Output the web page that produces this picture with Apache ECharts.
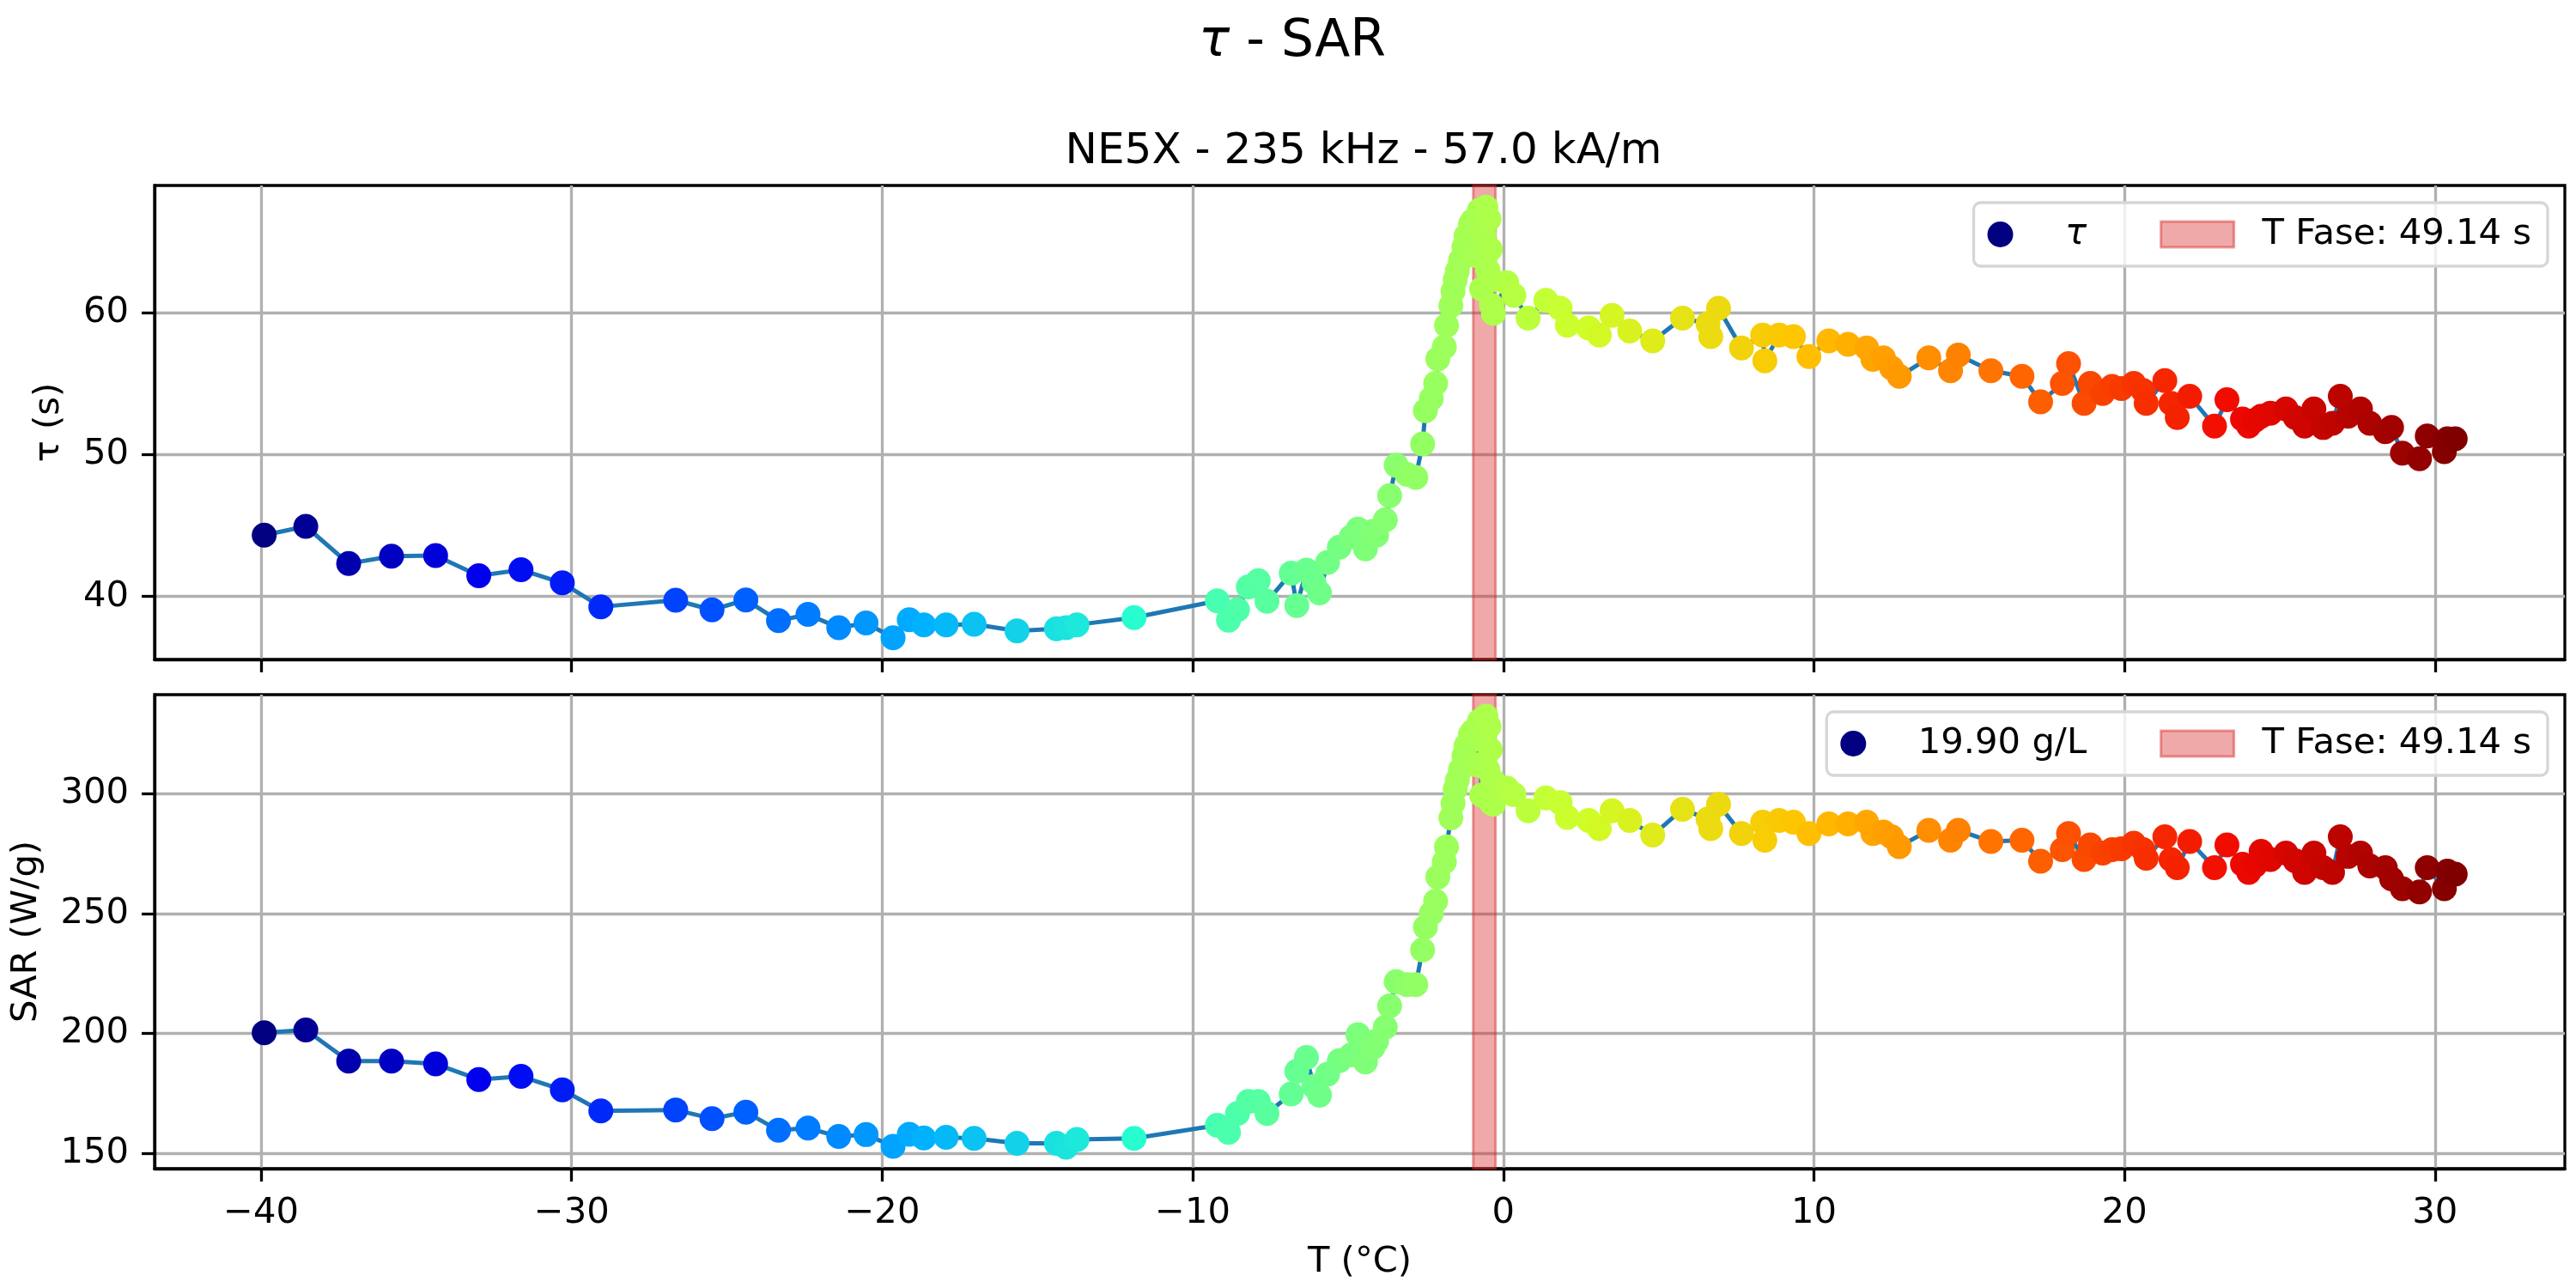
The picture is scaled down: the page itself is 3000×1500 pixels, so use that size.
<!DOCTYPE html>
<html>
<head>
<meta charset="utf-8">
<title>tau - SAR</title>
<script src="https://cdn.jsdelivr.net/npm/echarts@6/dist/echarts.min.js"></script>
<style>
  html, body { margin: 0; padding: 0; background: #fff; }
  #chart { width: 3000px; height: 1500px; }
</style>
</head>
<body>
<div id="chart"></div>
<script>
// temperatura (°C) - comun a los dos paneles
var tempC = [
  -39.9, -38.56, -37.18, -35.8, -34.38, -32.99, -31.63, -30.3, -29.06, -26.65,
  -25.48, -24.39, -23.34, -22.39, -21.4, -20.52, -19.65, -19.13, -18.66, -17.94,
  -17.04, -15.66, -14.39, -14.08, -13.73, -11.89, -9.21, -8.85, -8.56, -8.21,
  -7.89, -7.61, -6.83, -6.65, -6.34, -6.1, -5.92, -5.66, -5.28, -4.9,
  -4.68, -4.44, -4.2, -4.08, -3.8, -3.66, -3.45, -3.1, -2.82, -2.6,
  -2.51, -2.32, -2.18, -2.11, -1.9, -1.83, -1.69, -1.62, -1.55, -1.48,
  -1.38, -1.27, -1.2, -1.06, -0.99, -0.85, -0.77, -0.7, -0.62, -0.56,
  -0.5, -0.46, -0.42, -0.38, -0.35, -0.32, 0.11, 0.34, 0.8, 1.37,
  1.83, 2.06, 2.75, 3.09, 3.5, 4.07, 4.81, 5.77, 6.59, 6.68,
  6.93, 7.67, 8.35, 8.42, 8.88, 9.34, 9.84, 10.48, 11.1, 11.7,
  11.9, 12.24, 12.5, 12.75, 13.7, 14.4, 14.65, 15.7, 16.7, 17.3,
  18.0, 18.2, 18.7, 18.9, 19.3, 19.6, 19.9, 20.3, 20.6, 20.7,
  21.3, 21.5, 21.7, 22.1, 22.9, 23.3, 23.8, 24.0, 24.2, 24.4,
  24.7, 25.2, 25.5, 25.8, 26.1, 26.4, 26.7, 26.95, 27.2, 27.6,
  27.9, 28.4, 28.6, 28.95, 29.5, 29.75, 30.3, 30.4, 30.65
];
// tau (s)
var tauS = [
  44.32, 44.94, 42.32, 42.84, 42.88, 41.46, 41.88, 40.96, 39.28, 39.74,
  39.06, 39.76, 38.3, 38.74, 37.8, 38.14, 37.1, 38.37, 38.01, 38.01,
  38.05, 37.58, 37.73, 37.8, 38.01, 38.52, 39.7, 38.33, 39.08, 40.68,
  41.11, 39.66, 41.65, 39.36, 41.86, 41.0, 40.26, 42.4, 43.47, 44.2,
  44.75, 43.36, 44.6, 44.32, 45.39, 47.1, 49.24, 48.6, 48.39, 50.74,
  53.09, 53.95, 55.0, 56.73, 57.58, 59.08, 60.47, 61.5, 62.29, 62.93,
  63.68, 64.6, 65.39, 66.2, 66.46, 64.0, 67.2, 61.65, 65.5, 67.42,
  63.0, 66.57, 64.43, 60.5, 62.29, 59.94, 62.1, 61.2, 59.6, 60.85,
  60.3, 59.1, 58.9, 58.4, 59.8, 58.7, 58.0, 59.6, 59.2, 58.3,
  60.3, 57.5, 58.4, 56.6, 58.4, 58.3, 56.9, 58.0, 57.75, 57.5,
  56.7, 56.8, 56.1, 55.5, 56.8, 55.9, 57.0, 55.9, 55.5, 53.7,
  55.0, 56.4, 53.6, 55.0, 54.3, 54.8, 54.65, 55.0, 54.5, 53.6,
  55.2, 53.6, 52.6, 54.1, 52.0, 53.85, 52.5, 52.0, 52.4, 52.7,
  52.9, 53.2, 52.6, 52.0, 53.2, 51.9, 52.2, 54.1, 52.7, 53.2,
  52.2, 51.6, 51.9, 50.1, 49.7, 51.3, 50.2, 51.1, 51.1
];
// SAR (W/g)
var sarWg = [
  200.2, 201.4, 188.4, 188.4, 187.2, 180.7, 182.0, 176.4, 167.6, 168.0,
  164.4, 167.1, 159.5, 160.4, 156.9, 157.7, 152.8, 157.8, 156.3, 156.6,
  156.1, 154.1, 154.1, 152.5, 155.7, 156.1, 161.6, 158.6, 166.5, 171.5,
  171.5, 166.5, 174.7, 184.2, 189.9, 177.8, 174.1, 182.9, 188.6, 191.0,
  199.4, 188.0, 194.0, 196.8, 202.5, 211.4, 221.5, 220.3, 220.3, 234.8,
  244.3, 250.0, 255.1, 265.2, 271.5, 277.8, 289.9, 296.0, 301.9, 305.7,
  310.0, 315.8, 320.0, 324.7, 326.0, 312.0, 330.4, 299.4, 322.0, 332.3,
  310.0, 328.0, 318.4, 296.0, 305.7, 295.6, 302.3, 299.6, 292.8, 298.2,
  296.2, 290.1, 288.8, 285.4, 292.8, 288.8, 282.7, 293.5, 289.4, 285.4,
  295.5, 283.3, 288.1, 280.6, 288.8, 288.1, 283.3, 287.4, 287.4, 288.1,
  283.3, 284.0, 282.0, 277.9, 284.7, 280.6, 284.7, 280.0, 280.6, 271.8,
  276.6, 283.3, 272.5, 278.6, 275.2, 276.6, 277.0, 279.3, 276.6, 273.0,
  282.0, 272.5, 269.1, 280.0, 269.1, 278.6, 270.5, 267.1, 270.0, 275.9,
  272.5, 275.2, 272.0, 267.1, 275.2, 269.1, 267.1, 282.0, 273.8, 275.2,
  269.8, 269.1, 264.4, 260.3, 259.0, 269.1, 260.3, 267.7, 266.4
];
// ticks de los ejes
var xTicks = [-40, -30, -20, -10, 0, 10, 20, 30];
var tauTicks = [40, 50, 60];
var sarTicks = [150, 200, 250, 300];
// zona de cambio de fase
var faseSpan = [-0.97, -0.25];
var faseLabel = 'T Fase: 49.14 s';
var concLabel = '19.90 g/L';

// colormap jet (matplotlib)
var jetColors = ['#000080', '#0000f1', '#004cff', '#00b0ff', '#29ffce', '#7dff7a',
                 '#ceff29', '#ffc400', '#ff6800', '#f10800', '#800000'];

var FONT = 'DejaVu Sans';
var LW = 3.3;

var pares = function (ys) {
  return tempC.map(function (t, i) { return [t, ys[i]]; });
};

// signo menos tipografico como matplotlib
var menos = function (v) {
  return String(v).replace('-', '\u2212');
};

var ejeX = function (idx, labels) {
  return {
    type: 'value', gridIndex: idx, min: -43.43, max: 34.18,
    axisLine: { onZero: false, lineStyle: { color: '#000', width: LW } },
    axisTick: { show: true, customValues: xTicks, length: 15, lineStyle: { color: '#000', width: LW } },
    axisLabel: { show: labels, customValues: xTicks, margin: 31, color: '#000', fontSize: 41.7,
                 fontFamily: FONT, formatter: menos },
    splitLine: { show: true, lineStyle: { color: '#b0b0b0', width: LW } },
    name: labels ? 'T (°C)' : '', nameLocation: 'middle', nameGap: 88,
    nameTextStyle: { color: '#000', fontSize: 41.7, fontFamily: FONT }
  };
};

var ejeY = function (idx, min, max, ticks, name, gap) {
  return {
    type: 'value', gridIndex: idx, min: min, max: max,
    axisLine: { onZero: false, lineStyle: { color: '#000', width: LW } },
    axisTick: { show: true, customValues: ticks, length: 15, lineStyle: { color: '#000', width: LW } },
    axisLabel: { customValues: ticks, margin: 30, color: '#000', fontSize: 41.7, fontFamily: FONT },
    splitLine: { show: true, lineStyle: { color: '#b0b0b0', width: LW } },
    name: name, nameLocation: 'middle', nameGap: gap, nameRotate: 90,
    nameTextStyle: { color: '#000', fontSize: 41.7, fontFamily: FONT }
  };
};

var leyenda = function (top, nombre) {
  return {
    orient: 'horizontal', right: 33, top: top,
    padding: [16, 19, 16, 16], itemGap: 85,
    itemWidth: 85, itemHeight: 30,
    backgroundColor: 'rgba(255,255,255,0.8)',
    borderColor: '#d6d6d6', borderWidth: LW, borderRadius: 8,
    textStyle: { color: '#000', fontSize: 41.7, fontFamily: FONT, padding: [0, 0, 0, 28],
                 rich: { i: { fontStyle: 'italic', fontSize: 41.7, fontFamily: FONT } } },
    formatter: function (n) { return n === 'τ' ? '{i|τ}' : n; },
    selectedMode: false,
    data: [
      { name: nombre, icon: 'circle', itemStyle: { color: '#000080', borderWidth: 0 } },
      { name: faseLabel, icon: 'rect',
        itemStyle: { color: 'rgba(214,39,40,0.4)', borderColor: 'rgba(214,39,40,0.45)', borderWidth: 3 } }
    ]
  };
};

var zonaFase = function (idx) {
  return {
    name: faseLabel, type: 'line', xAxisIndex: idx, yAxisIndex: idx, data: [],
    markArea: {
      silent: true,
      itemStyle: { color: 'rgba(214,39,40,0.4)', borderColor: 'rgba(214,39,40,0.45)', borderWidth: 3 },
      data: [[{ xAxis: faseSpan[0] }, { xAxis: faseSpan[1] }]]
    }
  };
};

var linea = function (idx, ys) {
  return {
    name: 'linea' + idx, type: 'line', xAxisIndex: idx, yAxisIndex: idx,
    data: pares(ys), showSymbol: false, z: 3,
    lineStyle: { color: '#1f77b4', width: 5 }
  };
};

var puntos = function (idx, nombre, ys) {
  return {
    name: nombre, type: 'scatter', xAxisIndex: idx, yAxisIndex: idx,
    data: pares(ys), symbolSize: 29, z: 4,
    itemStyle: { opacity: 1 }
  };
};

var option = {
  backgroundColor: '#fff',
  animation: false,
  title: [
    { text: '{i|τ} - SAR', left: 1500, top: 14, textAlign: 'center',
      textStyle: { color: '#000', fontSize: 60, fontWeight: 'normal', fontFamily: FONT,
                   rich: { i: { fontStyle: 'italic', fontSize: 60, fontFamily: FONT } } } },
    { text: 'NE5X - 235 kHz - 57.0 kA/m', left: 1583, top: 147, textAlign: 'center',
      textStyle: { color: '#000', fontSize: 50, fontWeight: 'normal', fontFamily: FONT } }
  ],
  grid: [
    { left: 180, right: 13, top: 216, height: 552, show: true, borderColor: '#000', borderWidth: LW },
    { left: 180, right: 13, top: 809, height: 552, show: true, borderColor: '#000', borderWidth: LW }
  ],
  xAxis: [ejeX(0, false), ejeX(1, true)],
  yAxis: [
    ejeY(0, 35.57, 68.94, tauTicks, 'τ (s)', 102),
    ejeY(1, 143.5, 341.3, sarTicks, 'SAR (W/g)', 128)
  ],
  visualMap: {
    type: 'continuous', show: false, dimension: 0, seriesIndex: [2, 5],
    min: Math.min.apply(null, tempC), max: Math.max.apply(null, tempC),
    inRange: { color: jetColors }
  },
  legend: [leyenda(236, 'τ'), leyenda(829, concLabel)],
  series: [
    zonaFase(0), linea(0, tauS), puntos(0, 'τ', tauS),
    zonaFase(1), linea(1, sarWg), puntos(1, concLabel, sarWg)
  ]
};

var grafico = echarts.init(document.getElementById('chart'));
grafico.setOption(option);
</script>
</body>
</html>
